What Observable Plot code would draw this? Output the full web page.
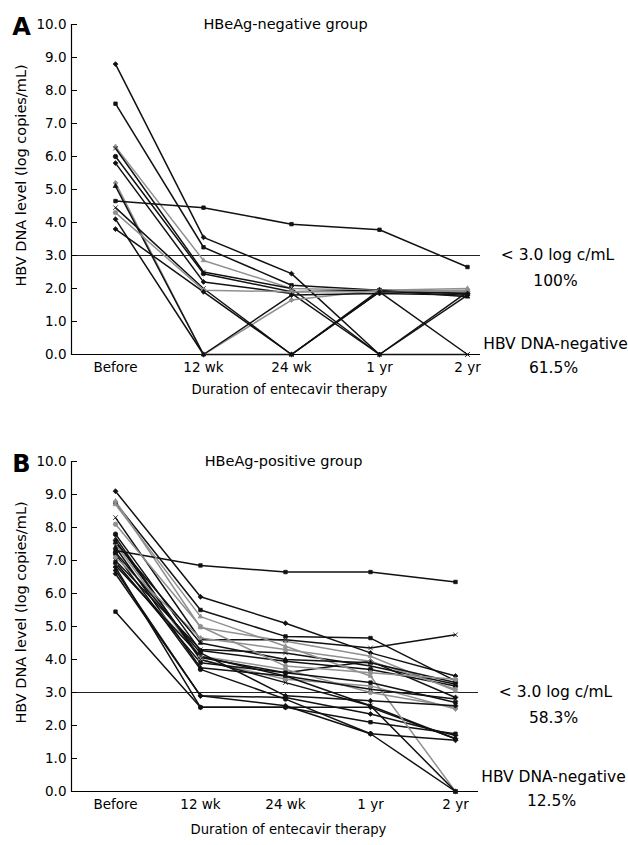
<!DOCTYPE html>
<html><head><meta charset="utf-8">
<script src="https://cdn.jsdelivr.net/npm/d3@7"></script>
<script src="https://cdn.jsdelivr.net/npm/@observablehq/plot@0.6"></script>
<style>body{margin:0;background:#fff}#chart svg{display:block}</style>
</head><body><div id="chart"></div>
<script>
const timepoints = ["Before", "12 wk", "24 wk", "1 yr", "2 yr"];
const yTicks = [0, 1, 2, 3, 4, 5, 6, 7, 8, 9, 10];

// HBeAg-negative group: one row per patient, values at each time point (log copies/mL)
const negativeGroup = [
  [8.8, 3.55, 2.45, 0, 1.9],
  [7.6, 3.25, 2.1, 1.95, 1.9],
  [6.3, 2.85, 2.0, 1.95, 2.0],
  [6.25, 2.5, 2.0, 0, 0],
  [6.0, 2.45, 1.9, 1.95, 1.85],
  [5.8, 2.2, 1.85, 0, 1.8],
  [5.2, 0, 1.65, 1.95, 1.9],
  [4.65, 4.45, 3.95, 3.78, 2.65],
  [5.1, 0, 0, 1.95, 1.75],
  [4.45, 2.0, 0, 1.9, 0],
  [4.3, 1.95, 1.9, 1.9, 1.95],
  [4.1, 0, 1.8, 1.85, 1.8],
  [3.8, 1.9, 0, 1.9, 1.85]
];

// HBeAg-positive group
const positiveGroup = [
  [9.1, 5.9, 5.1, 4.2, 3.5],
  [8.75, 5.5, 4.7, 4.65, 3.35],
  [8.8, 4.97, 4.55, 4.1, 3.05],
  [8.3, 4.6, 4.6, 4.35, 4.75],
  [7.8, 4.27, 3.95, 3.7, 3.2],
  [7.6, 4.06, 3.6, 3.95, 2.85],
  [7.5, 4.0, 3.4, 3.2, 2.5],
  [7.3, 6.85, 6.65, 6.65, 6.35],
  [7.4, 3.75, 3.5, 2.6, 1.6],
  [7.0, 4.3, 4.2, 3.8, 3.25],
  [6.9, 4.1, 3.7, 3.0, 2.55],
  [6.7, 2.9, 2.85, 2.35, 1.7],
  [6.8, 2.55, 2.55, 2.55, 1.6],
  [5.45, 2.55, 2.55, 2.1, 1.75],
  [8.7, 5.3, 4.4, 3.5, 0],
  [7.7, 4.0, 3.3, 2.6, 0],
  [7.2, 3.7, 2.8, 1.75, 0],
  [6.6, 2.9, 2.6, 1.75, 1.55],
  [7.1, 4.65, 4.3, 3.95, 3.1],
  [6.95, 3.9, 3.6, 3.3, 2.7],
  [7.55, 4.5, 4.0, 3.9, 3.3],
  [6.85, 4.1, 3.5, 3.1, 2.8],
  [8.1, 5.0, 3.8, 3.6, 3.4],
  [7.25, 4.2, 2.9, 2.75, 2.6]
];

const panels = [
  {letter: "A", title: "HBeAg-negative group", group: negativeGroup, below3: "100%", negative: "61.5%",
   height: 420, marginTop: 24, marginBottom: 66, marginRight: 148, range: [113, 468], titleDx: -6,
   negDy: -10, pctDy: 14, xTitleDy: 35, xTitleDx: -2},
  {letter: "B", title: "HBeAg-positive group", group: positiveGroup, below3: "58.3%", negative: "12.5%",
   height: 425, marginTop: 41, marginBottom: 54, marginRight: 150, range: [113, 456], titleDx: -2,
   negDy: -14, pctDy: 10, xTitleDy: 38, xTitleDx: 3}
];

const shadeOf = (i) => (i % 4 === 2 ? "#909090" : "#111");
const symbolList = ["diamond2", "square2", "triangle2", "times", "circle", "diamond2"];

function makePanel(p) {
  const rows = p.group.flatMap((vals, i) => vals.map((v, j) => ({id: i, time: timepoints[j], value: v})));
  const fs = 14.5;
  const fa = 15.5;
  return Plot.plot({
    width: 628,
    height: p.height,
    marginLeft: 71,
    marginRight: p.marginRight,
    marginTop: p.marginTop,
    marginBottom: p.marginBottom,
    style: {fontFamily: "DejaVu Sans, sans-serif", fontSize: "13px", color: "#000", background: "#fff"},
    x: {type: "point", domain: timepoints, range: p.range, padding: 0},
    y: {domain: [0, 10]},
    marks: [
      Plot.ruleY([3], {stroke: "#222", strokeWidth: 1}),
      Plot.ruleY([0], {stroke: "#000", strokeWidth: 1.2}),
      Plot.frame({anchor: "left", stroke: "#000", strokeWidth: 1.2}),
      Plot.axisY({ticks: yTicks, tickFormat: d3.format(".1f"), tickSize: -6, tickPadding: 11, label: null, fontSize: 13.5}),
      Plot.axisX({tickSize: 0, tickPadding: 8, label: null, fontSize: 13.5}),
      Plot.line(rows, {x: "time", y: "value", z: "id", stroke: (d) => shadeOf(d.id), strokeWidth: 1.5}),
      Plot.dot(rows, {x: "time", y: "value", symbol: (d) => symbolList[d.id % symbolList.length],
        fill: (d) => shadeOf(d.id), stroke: (d) => shadeOf(d.id), r: 2.2, strokeWidth: 0.8}),
      Plot.text(["HBV DNA level (log copies/mL)"], {frameAnchor: "left", rotate: -90, dx: -50, dy: -14,
        textAnchor: "middle", lineAnchor: "middle", fontSize: 14.5}),
      Plot.text([p.title], {x: () => "24 wk", y: () => 10, dx: p.titleDx, fontSize: fs}),
      Plot.text([p.letter], {frameAnchor: "top-left", dx: -50, dy: 2.5, textAnchor: "middle", lineAnchor: "middle",
        fontSize: 24, fontWeight: "bold"}),
      Plot.text(["Duration of entecavir therapy"], {x: () => "24 wk", frameAnchor: "bottom", dx: p.xTitleDx, dy: p.xTitleDy,
        lineAnchor: "middle", fontSize: 13.2}),
      Plot.text(["< 3.0 log c/mL"], {frameAnchor: "right", y: () => 3, dx: 77, textAnchor: "middle", fontSize: fa}),
      Plot.text([p.below3], {frameAnchor: "right", y: () => 3, dx: 75, dy: 26, textAnchor: "middle", fontSize: fa}),
      Plot.text(["HBV DNA-negative"], {frameAnchor: "right", y: () => 0, dx: 75, dy: p.negDy, textAnchor: "middle", fontSize: fa}),
      Plot.text([p.negative], {frameAnchor: "right", y: () => 0, dx: 73, dy: p.pctDy, textAnchor: "middle", fontSize: fa})
    ]
  });
}

const chart = document.getElementById("chart");
for (const p of panels) chart.appendChild(makePanel(p));
</script>
</body></html>
